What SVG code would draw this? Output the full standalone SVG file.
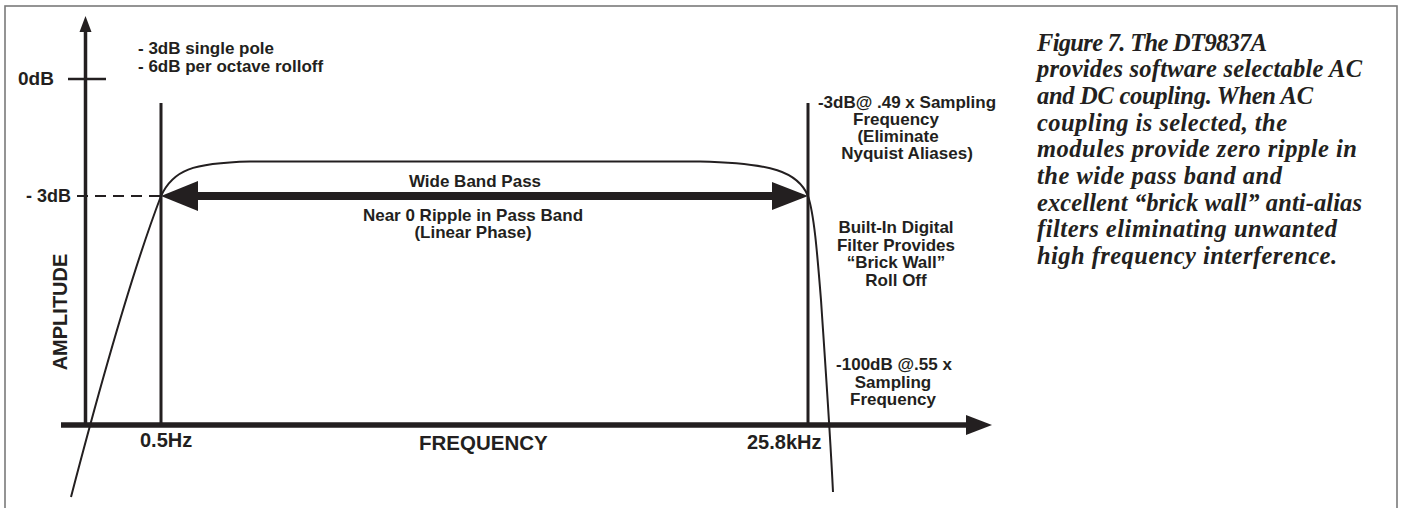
<svg xmlns="http://www.w3.org/2000/svg" width="1401" height="508" viewBox="0 0 1401 508">
<style>
.lbl{font-family:"Liberation Sans",Arial,sans-serif;font-weight:bold;fill:#231f20;font-size:17px}
.big{font-size:20px}
.cap{font-family:"Liberation Serif","Times New Roman",serif;font-weight:bold;font-style:italic;fill:#231f20;font-size:24.5px}
.ln{fill:none;stroke:#231f20}
</style>
<rect x="5" y="6" width="1392" height="530" fill="#fff" stroke="#7a7a7a" stroke-width="1.6"/>
<g id="connectors">
  <line class="ln" x1="85.5" y1="28" x2="85.5" y2="425" stroke-width="3.5"/>
  <polygon points="85.5,16 79.5,32 91.5,32" fill="#231f20"/>
  <line class="ln" x1="61" y1="425" x2="970" y2="425" stroke-width="5.5"/>
  <polygon points="992,425 966,415 966,435" fill="#231f20"/>
  <line class="ln" x1="68" y1="79" x2="106" y2="79" stroke-width="2.5"/>
  <line class="ln" x1="77" y1="196" x2="160" y2="196" stroke-width="2" stroke-dasharray="11 7"/>
  <line class="ln" x1="161" y1="103" x2="161" y2="425" stroke-width="3"/>
  <line class="ln" x1="808" y1="103" x2="808" y2="425" stroke-width="3"/>
  <path class="ln" stroke-width="2" d="M161,196 C173,170 192,163 250,161.5 L700,161.5 C772,163 798,172 808,196"/>
  <path class="ln" stroke-width="2" d="M808,196 C814,214 817,250 821,300 C825,360 830,430 833,492"/>
  <path class="ln" stroke-width="2" d="M161,196 Q125,290 71,497"/>
  <line class="ln" x1="190" y1="196" x2="780" y2="196" stroke-width="8"/>
  <polygon points="161,196 198,181 198,211" fill="#231f20"/>
  <polygon points="808,196 772,182 772,210" fill="#231f20"/>
</g>
<g id="axis-labels">
  <text class="lbl" x="18" y="85" style="font-size:19px">0dB</text>
  <text class="lbl" x="26" y="202" style="font-size:18px">- 3dB</text>
  <text class="lbl big" transform="translate(67,312) rotate(-90)" text-anchor="middle">AMPLITUDE</text>
  <text class="lbl big" x="140" y="447">0.5Hz</text>
  <text class="lbl big" x="419" y="450" style="font-size:20.5px">FREQUENCY</text>
  <text class="lbl big" x="747" y="449">25.8kHz</text>
</g>
<g id="pole-note">
  <text class="lbl" x="138" y="54">- 3dB single pole</text>
  <text class="lbl" x="138" y="72">- 6dB per octave rolloff</text>
</g>
<g id="passband-labels">
  <text class="lbl" x="475" y="187" text-anchor="middle">Wide Band Pass</text>
  <text class="lbl" x="473" y="220.5" text-anchor="middle">Near 0 Ripple in Pass Band</text>
  <text class="lbl" x="473" y="238" text-anchor="middle">(Linear Phase)</text>
</g>
<g id="nyquist-note">
  <text class="lbl" x="907" y="108" text-anchor="middle">-3dB@ .49 x Sampling</text>
  <text class="lbl" x="896" y="125" text-anchor="middle">Frequency</text>
  <text class="lbl" x="898" y="142" text-anchor="middle">(Eliminate</text>
  <text class="lbl" x="907" y="159" text-anchor="middle">Nyquist Aliases)</text>
</g>
<g id="brickwall-note">
  <text class="lbl" x="896" y="233" text-anchor="middle">Built-In Digital</text>
  <text class="lbl" x="896" y="250.5" text-anchor="middle">Filter Provides</text>
  <text class="lbl" x="896" y="268" text-anchor="middle">“Brick Wall”</text>
  <text class="lbl" x="896" y="285.5" text-anchor="middle">Roll Off</text>
</g>
<g id="stopband-note">
  <text class="lbl" x="894" y="370" text-anchor="middle">-100dB @.55 x</text>
  <text class="lbl" x="893" y="387.5" text-anchor="middle">Sampling</text>
  <text class="lbl" x="893" y="405" text-anchor="middle">Frequency</text>
</g>
<g id="caption">
  <text class="cap" x="1037" y="50.7" textLength="230">Figure 7. The DT9837A</text>
  <text class="cap" x="1037" y="77.3" textLength="325">provides software selectable AC</text>
  <text class="cap" x="1037" y="104" textLength="276">and DC coupling. When AC</text>
  <text class="cap" x="1037" y="130.7" textLength="250">coupling is selected, the</text>
  <text class="cap" x="1037" y="157.3" textLength="320">modules provide zero ripple in</text>
  <text class="cap" x="1037" y="184" textLength="245">the wide pass band and</text>
  <text class="cap" x="1037" y="210.7" textLength="325">excellent “brick wall” anti-alias</text>
  <text class="cap" x="1037" y="237.3" textLength="300">filters eliminating unwanted</text>
  <text class="cap" x="1037" y="264" textLength="300">high frequency interference.</text>
</g>
</svg>
